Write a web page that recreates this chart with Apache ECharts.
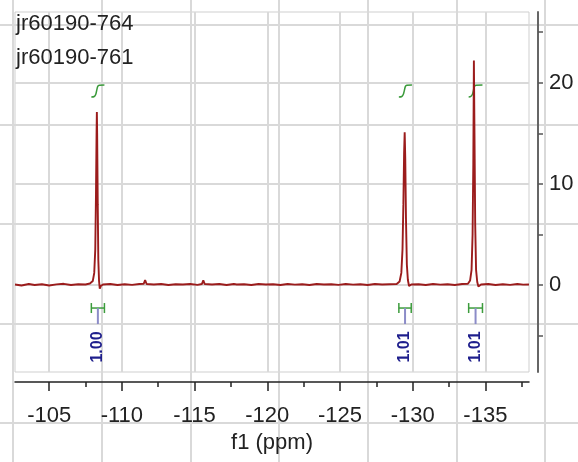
<!DOCTYPE html>
<html>
<head>
<meta charset="utf-8">
<title>19F NMR</title>
<script src="https://cdn.jsdelivr.net/npm/echarts@6/dist/echarts.min.js"></script>
<style>
  html, body { margin: 0; padding: 0; background: #fff; }
  #chart { width: 578px; height: 462px; }
</style>
</head>
<body>
<div id="chart"></div>
<script>
// spectrum names, printed top-left
const spectrumNames = ['jr60190-764', 'jr60190-761'];

// spectrum trace: [ppm, intensity]
const spectrum = [
  [-102.65, 0.05], [-103.1, -0.05], [-103.6, 0.1], [-104.0, 0.0], [-104.5, 0.08],
  [-105.0, -0.04], [-105.5, 0.06], [-106.0, 0.12], [-106.5, 0.0], [-107.0, 0.08],
  [-107.5, 0.05], [-107.8, 0.15], [-108.0, 0.4], [-108.1, 1.2], [-108.17, 3.5],
  [-108.22, 9], [-108.26, 15], [-108.28, 17.1], [-108.3, 15], [-108.34, 8],
  [-108.38, 2.5], [-108.43, 0.4], [-108.48, -0.35], [-108.55, -0.1], [-108.7, 0.05],
  [-109.2, 0.1], [-109.7, 0.0], [-110.2, 0.08], [-110.7, 0.02], [-111.2, 0.1],
  [-111.5, 0.12], [-111.6, 0.5], [-111.7, 0.1], [-112.2, 0.05], [-112.7, 0.1],
  [-113.2, 0.0], [-113.7, 0.08], [-114.2, 0.05], [-114.7, 0.1], [-115.2, 0.02],
  [-115.5, 0.1], [-115.6, 0.45], [-115.7, 0.1], [-116.2, 0.05], [-116.7, 0.1],
  [-117.2, 0.0], [-117.7, 0.1], [-117.8, 0.25], [-117.9, 0.05], [-118.4, 0.08],
  [-118.9, 0.0], [-119.4, 0.1], [-119.9, 0.05], [-120.4, 0.08], [-120.9, 0.0],
  [-121.4, 0.1], [-121.9, 0.04], [-122.4, 0.08], [-122.9, 0.0], [-123.4, 0.1],
  [-123.9, 0.05], [-124.4, 0.08], [-124.9, 0.02], [-125.4, 0.1], [-125.9, 0.04],
  [-126.4, 0.08], [-126.9, 0.0], [-127.4, 0.1], [-127.9, 0.05], [-128.4, 0.08],
  [-128.9, 0.1], [-129.1, 0.35], [-129.22, 1.2], [-129.3, 3.5], [-129.36, 8],
  [-129.41, 13], [-129.45, 15.1], [-129.49, 12.5], [-129.54, 6.5], [-129.6, 2],
  [-129.67, 0.5], [-129.75, -0.1], [-129.9, 0.05], [-130.4, 0.08], [-130.9, 0.0],
  [-131.4, 0.1], [-131.9, 0.04], [-132.4, 0.08], [-132.9, 0.0], [-133.4, 0.1],
  [-133.8, 0.12], [-133.95, 0.45], [-134.05, 1.5], [-134.12, 5], [-134.17, 12],
  [-134.21, 22.2], [-134.25, 15], [-134.3, 6], [-134.36, 1.5], [-134.44, 0.3],
  [-134.52, -0.15], [-134.7, 0.05], [-135.2, 0.1], [-135.7, 0.0], [-136.2, 0.08],
  [-136.7, 0.02], [-137.2, 0.1], [-137.6, 0.04], [-138.0, 0.06]
];

// integral traces, normalised 0..1
const integral1 = [[-107.9, 0], [-108.1, 0.04], [-108.2, 0.2], [-108.27, 0.55], [-108.34, 0.88], [-108.45, 0.98], [-108.8, 1]];
const integral2 = [[-129.05, 0], [-129.25, 0.04], [-129.35, 0.2], [-129.43, 0.55], [-129.5, 0.88], [-129.6, 0.98], [-129.95, 1]];
const integral3 = [[-133.85, 0], [-134.0, 0.04], [-134.1, 0.2], [-134.18, 0.55], [-134.25, 0.88], [-134.35, 0.98], [-134.8, 1]];

// integration regions [from, to] ppm and their values
const integralRanges = [[-107.9, -108.8], [-129.05, -129.9], [-133.85, -134.8]];
const integralLabels = ['1.00', '1.01', '1.01'];

// axis ticks
const xMajorTicks = [-105, -110, -115, -120, -125, -130, -135];
const xMinorTicks = [-107.5, -112.5, -117.5, -122.5, -127.5, -132.5, -137.5];
const yTicks = [-5, 0, 5, 10, 15, 20, 25];
const yLabels = [0, 10, 20];
const yGridValues = [0, 10, 20];

const FONT = 'Liberation Sans';
const GRID_LINE = { color: '#d9d9d9', width: 2 };

const chart = echarts.init(document.getElementById('chart'));

function hiddenAxis(extra) {
  return Object.assign({
    type: 'value',
    axisLine: { show: false },
    axisTick: { show: false },
    axisLabel: { show: false },
    splitLine: { show: false }
  }, extra);
}

function integralSeries(data) {
  return {
    type: 'line',
    xAxisIndex: 0,
    yAxisIndex: 2,
    data: data,
    smooth: 0.3,
    showSymbol: false,
    silent: true,
    lineStyle: { color: '#3a9a3a', width: 1.5 },
    z: 4
  };
}

const option = {
  animation: false,
  backgroundColor: '#fff',
  grid: [
    // plot area
    { left: 15, right: 49, top: 12, bottom: 90, show: true, borderColor: '#cfcfcf', borderWidth: 1, outerBoundsMode: 'none' },
    // page grid, vertical lines
    { left: 13, right: 32.8, top: 0, bottom: 0, outerBoundsMode: 'none' },
    // page grid, horizontal lines
    { left: 0, right: 0, top: 25, bottom: 39, outerBoundsMode: 'none' }
  ],
  xAxis: [
    {
      type: 'value', gridIndex: 0, position: 'bottom', offset: 10,
      min: -138, max: -102.65, inverse: true,
      name: 'f1 (ppm)', nameLocation: 'middle', nameGap: 48,
      nameTextStyle: { fontSize: 22, fontFamily: FONT, color: '#222' },
      axisLine: { show: true, onZero: false, lineStyle: { color: '#222', width: 1.5 } },
      axisTick: { show: true, customValues: xMajorTicks, length: 9, lineStyle: { color: '#222', width: 1.5 } },
      axisLabel: { customValues: xMajorTicks, margin: 23, fontSize: 22, fontFamily: FONT, color: '#222' },
      splitLine: { show: true, lineStyle: GRID_LINE }
    },
    hiddenAxis({
      gridIndex: 0, position: 'bottom', offset: 10,
      min: -138, max: -102.65, inverse: true,
      axisLine: { show: false, onZero: false },
      axisTick: { show: true, customValues: xMinorTicks, length: 5, lineStyle: { color: '#222', width: 1.5 } }
    }),
    hiddenAxis({ gridIndex: 1, min: 0, max: 6, interval: 1, splitLine: { show: true, lineStyle: GRID_LINE } }),
    hiddenAxis({ gridIndex: 2, min: 0, max: 1 })
  ],
  yAxis: [
    {
      type: 'value', gridIndex: 0, position: 'right', offset: 9,
      min: -8.6, max: 27,
      axisLine: { show: true, onZero: false, lineStyle: { color: '#666', width: 2 } },
      axisTick: { show: true, customValues: yTicks, length: 5, lineStyle: { color: '#555', width: 1.5 } },
      axisLabel: { customValues: yLabels, margin: 11, fontSize: 22, fontFamily: FONT, color: '#222' },
      splitLine: { show: false }
    },
    hiddenAxis({
      gridIndex: 0, min: -8.6, max: 27,
      axisTick: { show: false, customValues: yGridValues },
      splitLine: { show: true, lineStyle: GRID_LINE }
    }),
    // scale for the integral traces
    hiddenAxis({ gridIndex: 0, min: -22.92, max: 7.08 }),
    hiddenAxis({ gridIndex: 1, min: 0, max: 1 }),
    hiddenAxis({ gridIndex: 2, min: 0, max: 4, interval: 1, inverse: true, splitLine: { show: true, lineStyle: GRID_LINE } })
  ],
  graphic: spectrumNames.map(function (name, i) {
    return {
      type: 'text', left: 16, top: 13 + i * 34, z: 10,
      style: { text: name, font: '22px "' + FONT + '"', fill: '#222' }
    };
  }),
  series: [
    {
      name: spectrumNames[0],
      type: 'line',
      xAxisIndex: 0,
      yAxisIndex: 0,
      data: spectrum,
      showSymbol: false,
      silent: true,
      lineStyle: { color: '#9b1c1c', width: 1.9 },
      z: 5
    },
    integralSeries(integral1),
    integralSeries(integral2),
    integralSeries(integral3),
    {
      type: 'custom',
      xAxisIndex: 0,
      yAxisIndex: 0,
      data: integralRanges,
      encode: { x: [0, 1] },
      clip: false,
      silent: true,
      z: 4,
      renderItem: function (params, api) {
        const a = api.coord([api.value(0), 0]);
        const b = api.coord([api.value(1), 0]);
        const y = a[1] + 23;
        const cx = (a[0] + b[0]) / 2;
        const green = { stroke: '#3c9c3c', lineWidth: 1.5 };
        return {
          type: 'group',
          children: [
            { type: 'line', shape: { x1: a[0], y1: y, x2: b[0], y2: y }, style: green },
            { type: 'line', shape: { x1: a[0], y1: y - 5, x2: a[0], y2: y + 5 }, style: green },
            { type: 'line', shape: { x1: b[0], y1: y - 5, x2: b[0], y2: y + 5 }, style: green },
            { type: 'line', shape: { x1: cx, y1: y, x2: cx, y2: y + 16 }, style: { stroke: '#8c8cc8', lineWidth: 2 } },
            {
              type: 'text', x: cx, y: y + 39, rotation: Math.PI / 2,
              style: {
                text: integralLabels[params.dataIndex],
                font: 'bold 16px "' + FONT + '"',
                fill: '#1e1e8c', align: 'center', verticalAlign: 'middle'
              }
            }
          ]
        };
      }
    }
  ]
};

chart.setOption(option);
</script>
</body>
</html>
